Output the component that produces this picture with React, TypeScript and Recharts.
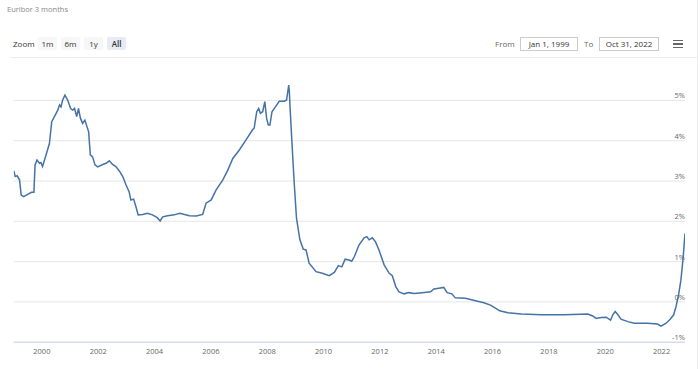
import { LineChart, Line, XAxis, YAxis, ReferenceLine } from "recharts";

const dates = [
  "1999-01-04", "1999-01-20", "1999-02-14", "1999-03-18", "1999-04-08", "1999-05-10", "1999-07-01", "1999-08-20",
  "1999-09-20", "1999-10-05", "1999-10-30", "1999-12-01", "1999-12-20", "2000-01-10", "2000-02-25", "2000-04-08",
  "2000-05-08", "2000-06-12", "2000-07-26", "2000-08-18", "2000-09-05", "2000-09-27", "2000-10-26", "2000-12-01",
  "2001-01-08", "2001-02-05", "2001-02-28", "2001-03-28", "2001-04-20", "2001-05-15", "2001-06-13", "2001-07-12",
  "2001-08-08", "2001-08-30", "2001-09-20", "2001-10-20", "2001-11-20", "2001-12-25", "2002-02-28", "2002-04-12",
  "2002-05-25", "2002-07-05", "2002-08-18", "2002-10-01", "2002-11-15", "2002-12-28", "2003-02-06", "2003-02-28",
  "2003-04-05", "2003-05-05", "2003-06-03", "2003-08-01", "2003-10-01", "2003-12-05", "2004-02-06", "2004-03-14",
  "2004-04-16", "2004-06-18", "2004-09-12", "2004-11-22", "2005-03-28", "2005-06-25", "2005-09-16", "2005-10-30",
  "2006-01-05", "2006-03-10", "2006-06-03", "2006-08-08", "2006-10-12", "2007-01-05", "2007-04-01", "2007-06-25",
  "2007-07-16", "2007-08-18", "2007-09-13", "2007-10-05", "2007-11-03", "2007-12-01", "2007-12-24", "2008-01-15",
  "2008-02-05", "2008-03-03", "2008-04-16", "2008-06-05", "2008-08-10", "2008-09-08", "2008-10-06", "2008-10-14",
  "2008-10-24", "2008-11-16", "2008-12-15", "2009-01-15", "2009-02-28", "2009-04-12", "2009-05-18", "2009-06-28",
  "2009-09-25", "2009-12-15", "2010-03-15", "2010-05-20", "2010-07-12", "2010-08-25", "2010-10-08", "2010-11-28",
  "2011-01-01", "2011-02-03", "2011-04-05", "2011-06-10", "2011-07-16", "2011-08-15", "2011-09-25", "2011-11-06",
  "2011-12-20", "2012-02-25", "2012-05-01", "2012-06-10", "2012-07-25", "2012-09-05", "2012-11-10", "2013-01-12",
  "2013-03-18", "2013-07-01", "2013-10-20", "2013-12-01", "2014-02-03", "2014-04-08", "2014-05-22", "2014-07-22",
  "2014-09-05", "2015-01-15", "2015-05-25", "2015-09-10", "2015-12-05", "2016-02-28", "2016-04-01", "2016-07-20",
  "2017-01-08", "2017-09-25", "2018-07-22", "2019-05-18", "2019-07-22", "2019-09-05", "2019-11-10", "2020-01-12",
  "2020-03-10", "2020-04-08", "2020-05-08", "2020-06-14", "2020-07-22", "2020-10-20", "2021-01-12", "2021-07-01",
  "2021-11-10", "2021-12-24", "2022-02-28", "2022-04-22", "2022-06-06", "2022-07-06", "2022-08-08", "2022-09-08",
  "2022-10-08", "2022-10-31",
];

const rates = [
  3.25, 3.11, 3.13, 3.03, 2.65, 2.61, 2.67, 2.72,
  2.72, 3.4, 3.52, 3.44, 3.46, 3.36, 3.65, 3.93,
  4.47, 4.6, 4.76, 4.89, 4.84, 5.01, 5.13, 5.01,
  4.8, 4.76, 4.8, 4.6, 4.8, 4.56, 4.43, 4.51,
  4.35, 4.22, 3.65, 3.6, 3.4, 3.35, 3.41, 3.44,
  3.5, 3.41, 3.36, 3.25, 3.11, 2.9, 2.73, 2.53,
  2.55, 2.36, 2.16, 2.17, 2.2, 2.16, 2.09, 2.01,
  2.11, 2.14, 2.16, 2.2, 2.14, 2.13, 2.17, 2.45,
  2.53, 2.78, 3.02, 3.27, 3.56, 3.77, 4.02, 4.27,
  4.31, 4.72, 4.8, 4.68, 4.72, 4.97, 4.56, 4.39,
  4.39, 4.72, 4.84, 4.98, 4.98, 5.01, 5.38, 5.22,
  4.8, 3.98, 2.98, 2.07, 1.54, 1.31, 1.29, 0.96,
  0.75, 0.71, 0.65, 0.73, 0.9, 0.87, 1.06, 1.04,
  1.01, 1.12, 1.41, 1.59, 1.62, 1.54, 1.59, 1.49,
  1.29, 0.92, 0.71, 0.65, 0.38, 0.25, 0.2, 0.23,
  0.21, 0.23, 0.25, 0.32, 0.34, 0.36, 0.23, 0.2,
  0.1, 0.09, 0.03, -0.02, -0.08, -0.18, -0.22, -0.27,
  -0.3, -0.32, -0.32, -0.3, -0.35, -0.41, -0.39, -0.38,
  -0.45, -0.32, -0.24, -0.32, -0.43, -0.49, -0.53, -0.53,
  -0.55, -0.6, -0.53, -0.43, -0.32, -0.12, 0.17, 0.54,
  1.12, 1.7,
];

const yearTicks = ["2000", "2002", "2004", "2006", "2008", "2010", "2012", "2014", "2016", "2018", "2020", "2022"];
const percentTicks = [-1, 0, 1, 2, 3, 4, 5];

const data = dates.map((d, i) => ({ t: Date.parse(d), v: rates[i] }));
const xTicks = yearTicks.map((y) => Date.parse(`${y}-01-01`));
const xDomain = [Date.parse("1999-01-01"), Date.parse("2022-10-31")];

const W = 700;
const H = 369;
const PLOT_RIGHT = 685;
const font = "'Open Sans', sans-serif";

function PercentTick(props: any) {
  const { y, payload } = props;
  return (
    <text x={PLOT_RIGHT} y={y - 2} textAnchor="end" fill="#666" fontSize={7.5} fontFamily={font}>
      {`${payload.value}%`}
    </text>
  );
}

const btn = (label: string, left: number, active = false) => (
  <div
    key={label}
    style={{
      position: "absolute",
      left,
      top: 37,
      width: 19,
      height: 13,
      background: active ? "#e6ebf5" : "#f7f7f7",
      borderRadius: 2,
      fontSize: 8,
      lineHeight: "13px",
      textAlign: "center",
      color: "#333",
      fontWeight: active ? 600 : 400,
    }}
  >
    {label}
  </div>
);

const inputBox = (text: string, left: number, width: number) => (
  <div
    style={{
      position: "absolute",
      left,
      top: 37,
      width,
      height: 12,
      border: "1px solid #ccc",
      fontSize: 8,
      lineHeight: "12px",
      textAlign: "center",
      color: "#333",
    }}
  >
    {text}
  </div>
);

export default function App() {
  return (
    <div style={{ position: "absolute", left: 0, top: 0, width: W, height: H, background: "#fff", fontFamily: font, overflow: "hidden" }}>
      <div style={{ position: "absolute", left: 7, top: 4, fontSize: 7.5, color: "#888" }}>Euribor 3 months</div>

      <div style={{ position: "absolute", left: 13, top: 37, fontSize: 8, lineHeight: "13px", color: "#333" }}>Zoom</div>
      {btn("1m", 38)}
      {btn("6m", 61)}
      {btn("1y", 84)}
      {btn("All", 107, true)}

      <div style={{ position: "absolute", left: 495, top: 37, fontSize: 8, lineHeight: "13px", color: "#666" }}>From</div>
      {inputBox("Jan 1, 1999", 520, 56)}
      <div style={{ position: "absolute", left: 584, top: 37, fontSize: 8, lineHeight: "13px", color: "#666" }}>To</div>
      {inputBox("Oct 31, 2022", 599, 58)}
      {[40, 43.5, 47].map((t) => (
        <div key={t} style={{ position: "absolute", left: 673, top: t - 0.5, width: 10, height: 1.6, background: "#666" }} />
      ))}

      <div style={{ position: "absolute", left: 10, top: 57, width: 688, height: 1, background: "#ececec" }} />
      <div style={{ position: "absolute", left: 697, top: 0, width: 1, height: H, background: "#ececec" }} />

      <div style={{ position: "absolute", left: 0, top: 0 }}>
        <LineChart width={W} height={H} data={data} margin={{ top: 70.2, right: 0, bottom: 6.8, left: 13.7 }}>
          {percentTicks.map((p) => (
            <ReferenceLine key={p} y={p} stroke="#e6e6e6" strokeWidth={1} ifOverflow="visible" />
          ))}
          <XAxis
            dataKey="t"
            type="number"
            domain={xDomain}
            ticks={xTicks}
            height={20}
            tickFormatter={(v: number) => String(new Date(v).getUTCFullYear())}
            axisLine={{ stroke: "#ccd6eb" }}
            tickLine={false}
            tickSize={4}
            tickMargin={2}
            tick={{ fill: "#666", fontSize: 7.5, fontFamily: font }}
            allowDataOverflow
          />
          <YAxis
            orientation="right"
            type="number"
            width={W - PLOT_RIGHT}
            domain={[-1, 5.75]}
            ticks={percentTicks}
            interval={0}
            axisLine={false}
            tickLine={false}
            tick={<PercentTick />}
            allowDataOverflow
          />
          <Line type="linear" dataKey="v" stroke="#4572a7" strokeWidth={1.5} dot={false} isAnimationActive={false} />
        </LineChart>
      </div>
    </div>
  );
}
